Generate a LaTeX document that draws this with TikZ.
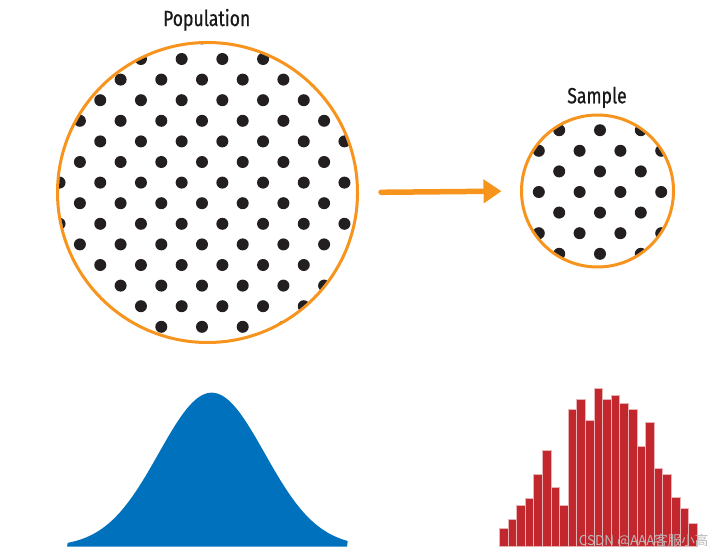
\documentclass[tikz,border=0pt]{standalone}
\usepackage{fontspec}
\setmainfont[FakeStretch=0.8,FakeBold=0.6,BoldFont={* Light}]{Fira Sans}
\newfontfamily\cjk{Noto Sans CJK SC}
\usetikzlibrary{arrows.meta,positioning}
\definecolor{popOrange}{HTML}{F7941D}
\definecolor{dotBlack}{HTML}{231F20}
\definecolor{bellBlue}{HTML}{0071BC}
\definecolor{barRed}{HTML}{C1272D}

\begin{document}
\begin{tikzpicture}[
  x=1pt,y=-1pt,
  ring/.style={draw=popOrange, line width=3pt, circle, inner sep=0pt},
  title/.style={font=\fontsize{22}{24}\selectfont, text=black!90, anchor=base},
  dot/.style={fill=dotBlack},
  bar/.style={fill=barRed, draw=barRed!35!white, line width=0.8pt},
  arr/.style={-{Triangle[length=18pt,width=23pt]}, line width=5.5pt, draw=popOrange, line cap=round}
]
\useasboundingbox (0,0) rectangle (720,554);
\node[ring, minimum size=300pt] (pop) at (207.5,192.5) {};
\node[ring, minimum size=152pt] (samp) at (597.5,191) {};
\node[title] (popT) at (206.7,26) {Population};
\node[title] (sampT) at (597,103.3) {Sample};
% dots of the population
\begin{scope}
  \clip (pop.center) circle (148.5);
  \foreach \i in {-8,...,8}
    \foreach \j in {-6,...,9} {
      \pgfmathtruncatemacro\parity{mod(\i+\j+20,2)}
      \ifnum\parity=0 \fill[dot] ({202+20.35*\i},{162+20.6*\j}) circle (6); \fi
    }
\end{scope}
% dots of the sample
\begin{scope}
  \clip (samp.center) circle (74.5);
  \foreach \i in {-4,...,4}
    \foreach \j in {-4,...,4} {
      \pgfmathtruncatemacro\parity{mod(\i+\j+20,2)}
      \ifnum\parity=1 \fill[dot] ({600+20.4*\i},{192+20.6*\j}) circle (6); \fi
    }
\end{scope}
\draw[arr, shorten <=22pt, shorten >=18.5pt] (pop.east) -- (samp.west);
% normal curve
\fill[bellBlue] (67,546.7) -- plot[domain=-144:136, samples=120] ({211.7+\x},{546.7-154*exp(-0.5*(\x/53)^2)}) -- (347,546.7) -- cycle;
% histogram of the sample
\foreach \top [count=\k from 0] in {528.7,519.3,505.3,498.3,474.3,450.7,487.3,505.3,409.3,399.3,420,388,399.3,395.3,403.3,409.3,446,422.7,468,474.3,497.3,508,523.3}
  \filldraw[bar] ({499.3+8.6*\k},546.7) rectangle ({499.3+8.6*(\k+1)},\top);
\node[font=\cjk\fontsize{13.5}{14}\selectfont, text=gray!55, anchor=east] (mark) at (712,541) {CSDN @AAA客服小高};
\end{tikzpicture}
\end{document}
